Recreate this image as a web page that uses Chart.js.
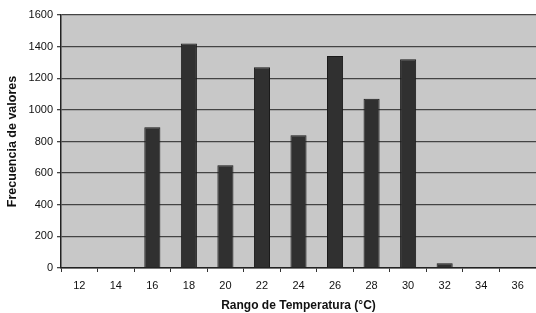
<!DOCTYPE html>
<html>
<head>
<meta charset="utf-8">
<script src="https://cdn.jsdelivr.net/npm/chart.js@4/dist/chart.umd.min.js"></script>
<style>
html,body{margin:0;padding:0;background:#fff;}
#wrap{width:536px;height:313px;position:relative;}
</style>
</head>
<body>
<div id="wrap"><canvas id="c" width="536" height="313"></canvas></div>
<script>
const categories = ["12","14","16","18","20","22","24","26","28","30","32","34","36"];
const frecuencias = [0,0,890,1420,650,1270,840,1340,1070,1320,30,0,0];
const yTicks = [0,200,400,600,800,1000,1200,1400,1600];

const plotBg = {
  id:'plotBg',
  beforeDraw(chart){
    const {ctx, chartArea:a} = chart;
    ctx.save();
    ctx.fillStyle = '#c8c8c8';
    ctx.fillRect(a.left, a.top, a.right-a.left, a.bottom-a.top);
    ctx.restore();
  }
};

new Chart(document.getElementById('c'), {
  type:'bar',
  data:{
    labels:categories,
    datasets:[{
      data:frecuencias,
      backgroundColor:'#303030',
      borderColor:'#1a1a1a',
      borderWidth:1,
      barPercentage:0.88,
      categoryPercentage:0.5
    }]
  },
  options:{
    responsive:false,
    animation:false,
    devicePixelRatio:1,
    layout:{padding:{top:15,right:0,left:0,bottom:0}},
    plugins:{legend:{display:false},tooltip:{enabled:false}},
    scales:{
      x:{
        offset:true,
        grid:{offset:true,drawOnChartArea:false,drawTicks:true,tickLength:4,color:'#333',lineWidth:1},
        border:{display:true,color:'#222',width:1.5},
        ticks:{color:'#111',font:{family:'Liberation Sans',size:11},padding:7,maxRotation:0},
        title:{display:true,text:'Rango de Temperatura (°C)',color:'#111',font:{family:'Liberation Sans',size:12,weight:'bold'},padding:{top:0,bottom:0}},
        afterFit(s){s.height=45;}
      },
      y:{
        min:0,max:1600,
        afterBuildTicks(s){s.ticks = yTicks.map(v=>({value:v}));},
        grid:{color:'#444',lineWidth:1.3,tickLength:4},
        border:{display:true,color:'#222',width:1.5},
        ticks:{color:'#111',font:{family:'Liberation Sans',size:11},padding:4,callback:(v)=>String(v)},
        title:{display:true,text:'Frecuencia de valores',color:'#111',font:{family:'Liberation Sans',size:12.5,weight:'bold'},padding:{top:5,bottom:4}},
        afterFit(s){s.width=61;}
      }
    }
  },
  plugins:[plotBg]
});
</script>
</body>
</html>
